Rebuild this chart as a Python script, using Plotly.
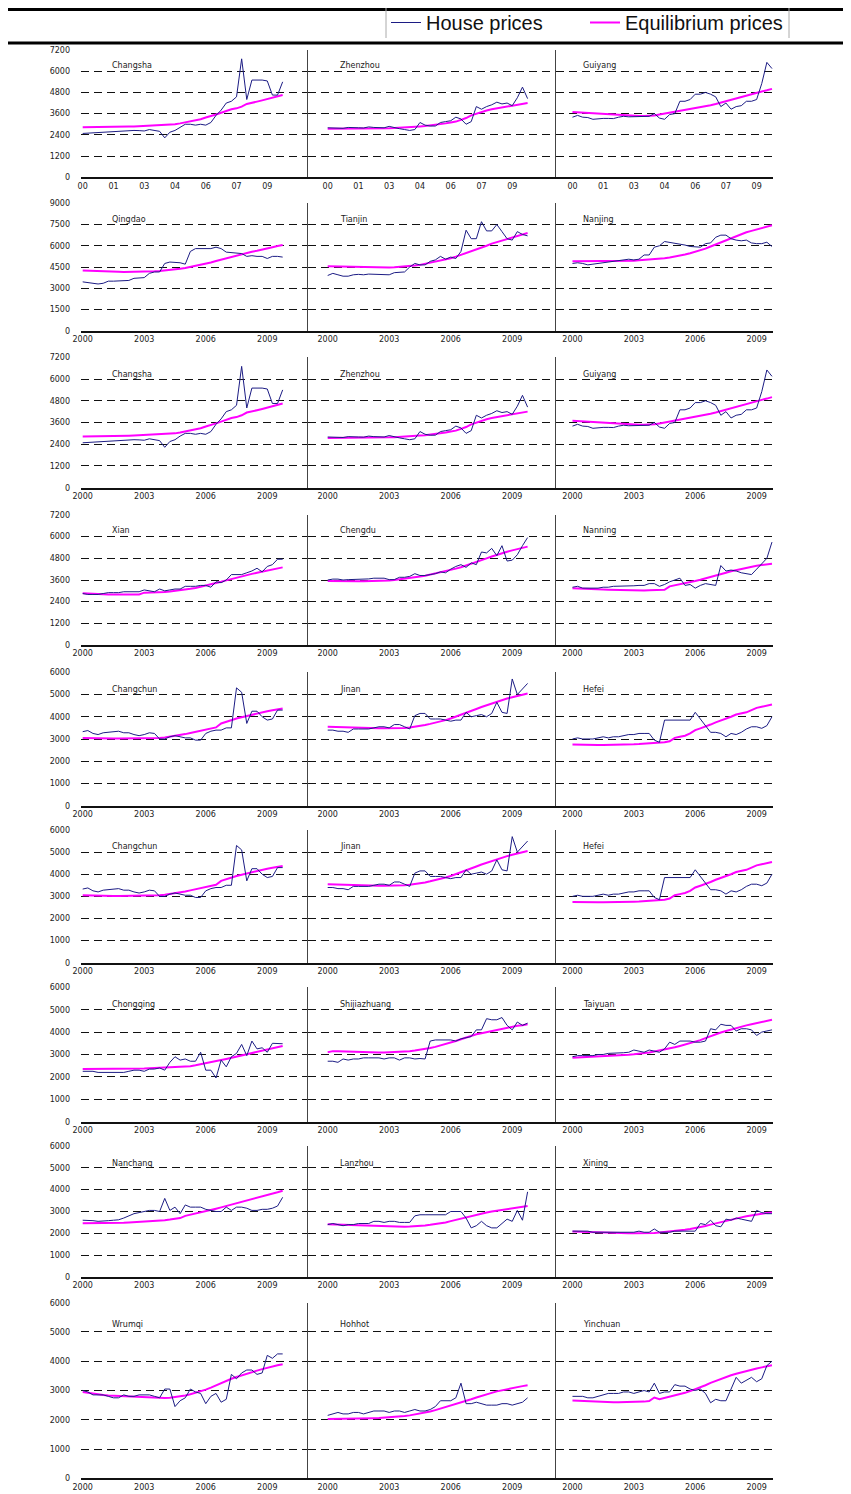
import plotly.graph_objects as go

# ---------------- data (quarterly, 2000Q1 .. 2009Q4) ----------------
quarters = [2000 + i * 0.25 for i in range(40)]

changsha_house = [2480,2500,2480,2500, 2550,2580,2600,2600, 2620,2650,2650,2640, 2620,2700,2650,2600,
                  2230,2550,2650,2850, 3000,3000,2950,3000, 2950,3100,3500,3800, 4200,4300,4550,6700,
                  4400,5500,5500,5500, 5450,4650,4650,5400]
changsha_eq = [2830,2830,2830,2830, 2835,2840,2845,2850, 2860,2870,2880,2890, 2900,2920,2930,2940,
               2950,2970,3000,3050, 3100,3150,3200,3280, 3380,3450,3550,3650, 3750,3850,3900,4000,
               4150,4200,4280,4350, 4420,4500,4580,4650]
zhenzhou_house = [2800,2790,2780,2770, 2820,2790,2800,2790, 2850,2820,2830,2800, 2880,2800,2750,2700,
                  2650,2700,3100,2950, 2900,2900,3100,3150, 3200,3400,3300,3000, 3150,4000,3850,4000,
                  4100,4250,4150,4200, 4050,4500,5100,4450]
zhenzhou_eq = [2750,2750,2745,2745, 2745,2750,2750,2750, 2755,2760,2765,2770, 2780,2790,2800,2820,
               2840,2860,2880,2900, 2930,2960,3000,3050, 3100,3150,3250,3350, 3500,3600,3700,3780,
               3850,3900,3950,4000, 4050,4100,4150,4200]
guiyang_house = [3400,3500,3400,3380, 3280,3320,3330,3330, 3320,3400,3450,3420, 3430,3400,3420,3450,
                 3600,3350,3280,3550, 3600,4300,4300,4400, 4700,4700,4800,4700, 4550,4000,4200,3850,
                 4000,4050,4300,4300, 4400,5300,6500,6150]
guiyang_eq = [3700,3680,3660,3640, 3620,3600,3580,3560, 3540,3520,3500,3490, 3480,3470,3470,3480,
              3500,3550,3600,3650, 3700,3750,3800,3850, 3900,3950,4000,4080, 4150,4230,4300,4380,
              4450,4550,4650,4700, 4780,4850,4920,5000]

qingdao_house = [3450,3400,3400,3300, 3350,3500,3500,3500, 3500,3550,3700,3750, 3750,4050,4150,4150,
                 4750,4850,4850,4800, 4700,5600,5800,5800, 5750,5800,5900,5800, 5550,5500,5500,5450,
                 5250,5300,5250,5250, 5100,5250,5250,5200]
qingdao_eq = [4250,4230,4210,4200, 4190,4180,4170,4160, 4150,4150,4150,4160, 4170,4180,4200,4220,
              4250,4290,4330,4380, 4430,4500,4570,4650, 4730,4820,4920,5020, 5120,5220,5320,5420,
              5500,5580,5650,5750, 5830,5900,5980,6050]
tianjin_house = [3900,4050,3950,3850, 3850,3950,3980,3950, 4000,3980,4000,3950, 3950,4100,4100,4150,
                 4500,4750,4650,4650, 4900,5000,5250,5050, 5200,5100,5600,7100, 6500,6500,7700,7050,
                 7050,7500,7000,6500, 6400,7000,6800,6700]
tianjin_eq = [4550,4540,4530,4520, 4510,4500,4490,4480, 4470,4460,4460,4460, 4470,4480,4500,4520,
              4550,4600,4650,4720, 4800,4880,4960,5040, 5120,5230,5350,5470, 5600,5720,5850,6000,
              6150,6250,6350,6450, 6550,6650,6750,6900]
nanjing_house = [4750,4800,4750,4650, 4700,4750,4800,4850, 4850,4900,4950,5050, 5000,5050,5350,5350,
                 5900,6000,6300,6250, 6200,6100,6050,5950, 5900,5900,6150,6200, 6600,6750,6750,6500,
                 6400,6350,6400,6200, 6150,6150,6250,5950]
nanjing_eq = [4900,4900,4900,4900, 4900,4900,4905,4910, 4915,4920,4930,4940, 4950,4970,4990,5010,
              5040,5080,5120,5170, 5230,5300,5380,5470, 5570,5680,5800,5950, 6100,6250,6400,6550,
              6700,6830,6950,7050, 7150,7250,7350,7450]

xian_house = [2850,2800,2800,2800, 2850,2900,2900,2900, 2950,2950,2950,2950, 3050,3000,2950,3100,
              3000,3050,3100,3100, 3250,3250,3250,3300, 3300,3200,3500,3450, 3600,3900,3900,3900,
              4000,4100,4250,4050, 4350,4450,4750,4750]
xian_eq = [2870,2850,2830,2820, 2810,2800,2800,2800, 2800,2800,2800,2800, 2900,2900,2910,2920,
           2940,2960,2990,3020, 3060,3110,3160,3220, 3280,3350,3420,3500, 3580,3660,3740,3810,
           3880,3940,4000,4060, 4110,4170,4230,4300]
chengdu_house = [3600,3650,3650,3600, 3620,3620,3650,3650, 3660,3700,3720,3700, 3620,3620,3750,3750,
                 3800,3950,3850,3850, 3900,3950,4050,4000, 4200,4350,4450,4300, 4550,4450,5150,5100,
                 5350,4950,5500,4650, 4700,5000,5500,5950]
chengdu_eq = [3550,3540,3530,3530, 3530,3530,3530,3530, 3530,3530,3540,3550, 3570,3600,3630,3660,
              3700,3740,3790,3840, 3900,3950,4010,4080, 4150,4230,4310,4400, 4500,4600,4700,4800,
              4900,5000,5080,5160, 5240,5320,5390,5450]
nanning_house = [3200,3250,3150,3150, 3150,3150,3200,3200, 3250,3250,3280,3280, 3280,3300,3300,3400,
                 3400,3250,3350,3500, 3600,3700,3300,3350, 3150,3300,3400,3350, 3300,4400,4100,4150,
                 4100,4000,3950,3900, 4200,4500,4800,5700]
nanning_eq = [3150,3130,3110,3100, 3090,3080,3070,3060, 3050,3040,3030,3020, 3020,3020,3020,3030,
              3040,3050,3060,3250, 3300,3360,3420,3480, 3540,3610,3680,3760, 3840,3920,4000,4080,
              4150,4220,4280,4340, 4390,4430,4470,4500]

changchun_house = [3330,3380,3250,3200, 3280,3300,3300,3350, 3280,3280,3200,3150, 3200,3280,3250,3000,
                   3000,3100,3150,3100, 3050,3050,2950,2950, 3250,3350,3400,3400, 3500,3500,5300,5100,
                   3700,4250,4250,4000, 3850,3900,4300,4300]
changchun_eq = [3050,3040,3040,3030, 3030,3030,3020,3020, 3020,3020,3020,3020, 3020,3030,3040,3050,
                3070,3100,3140,3180, 3220,3270,3320,3370, 3420,3470,3520,3700, 3780,3850,3920,3980,
                4040,4100,4150,4200, 4250,4290,4330,4370]
jinan_house = [3400,3400,3350,3350, 3300,3450,3450,3450, 3450,3500,3550,3550, 3500,3650,3650,3550,
               3450,4050,4150,4150, 3900,3900,3900,3850, 3800,3850,3850,4200, 4000,4050,4100,4000,
               4150,4650,4200,4150, 5700,5000,5250,5500]
jinan_eq = [3550,3540,3530,3520, 3510,3500,3500,3490, 3490,3480,3480,3480, 3480,3480,3490,3500,
            3520,3550,3590,3630, 3680,3730,3790,3850, 3920,4000,4080,4170, 4260,4350,4440,4520,
            4600,4680,4750,4820, 4880,4940,5000,5050]
hefei_house = [3000,3050,3000,3000, 3000,3050,3100,3050, 3100,3100,3150,3200, 3200,3250,3250,3250,
               2950,2850,3850,3850, 3820,3850,3850,3850, 4200,3900,3600,3300, 3300,3250,3100,3250,
               3200,3300,3450,3550, 3550,3480,3600,4000]
hefei_eq = [2750,2740,2730,2730, 2730,2730,2730,2730, 2740,2740,2750,2750, 2760,2770,2780,2790,
            2800,2820,2850,2900, 3050,3100,3150,3250, 3400,3480,3550,3650, 3750,3830,3900,4000,
            4100,4150,4200,4300, 4400,4450,4500,4550]

chongqing_house = [2250,2250,2250,2200, 2200,2200,2200,2200, 2200,2250,2300,2300, 2250,2350,2350,2400,
                   2300,2650,2900,2750, 2800,2700,2700,3100, 2300,2300,1950,2750, 2450,2900,3050,3450,
                   2950,3600,3250,3300, 3100,3500,3500,3480]
chongqing_eq = [2350,2350,2350,2350, 2350,2350,2350,2355, 2360,2365,2370,2375, 2380,2390,2400,2410,
                2420,2440,2460,2470, 2450,2480,2520,2560, 2600,2650,2700,2750, 2800,2850,2900,2950,
                3000,3050,3100,3150, 3200,3260,3320,3380]
shijiazhuang_house = [2700,2700,2650,2800, 2750,2800,2800,2850, 2850,2850,2850,2800, 2850,2850,2750,2850,
                      2850,2800,2820,2800, 3600,3650,3650,3650, 3650,3600,3700,3750, 3800,4100,4100,4600,
                      4550,4550,4650,4300, 4100,4450,4300,4400]
shijiazhuang_eq = [3100,3150,3140,3130, 3120,3110,3100,3100, 3090,3090,3090,3090, 3100,3100,3110,3130,
                   3150,3180,3210,3250, 3290,3340,3400,3460, 3530,3600,3680,3760, 3840,3900,3950,4000,
                   4050,4100,4150,4200, 4240,4280,4310,4350]
taiyuan_house = [2900,2950,2950,2950, 2950,3000,3000,3050, 3050,3050,3080,3100, 3200,3150,3100,3200,
                 3150,3100,3250,3550, 3450,3600,3600,3600, 3550,3550,3600,4150, 4100,4350,4300,4300,
                 4050,4150,4150,4100, 3850,4000,4050,4100]
taiyuan_eq = [2850,2860,2870,2880, 2890,2900,2910,2920, 2940,2950,2970,2990, 3010,3030,3060,3090,
              3130,3170,3220,3270, 3320,3380,3440,3500, 3570,3640,3730,3820, 3900,3980,4050,4120,
              4180,4240,4300,4350, 4400,4450,4500,4550]

nanchang_house = [2600,2600,2580,2550, 2550,2580,2600,2620, 2700,2800,2900,2950, 3000,3050,3050,3000,
                  3600,3050,3200,2900, 3300,3200,3200,3200, 3100,3050,3000,3000, 3200,3050,3200,3200,
                  3150,3050,3050,3100, 3100,3150,3250,3650]
nanchang_eq = [2460,2460,2460,2460, 2470,2470,2480,2480, 2490,2500,2510,2520, 2530,2540,2560,2580,
               2600,2630,2660,2700, 2800,2850,2900,2950, 3000,3070,3130,3190, 3250,3310,3370,3430,
               3500,3560,3620,3680, 3750,3810,3880,3950]
lanzhou_house = [2400,2450,2400,2350, 2400,2400,2450,2450, 2450,2550,2550,2500, 2550,2550,2500,2500,
                 2500,2800,2850,2850, 2850,2880,2880,2850, 3000,3000,3000,2700, 2250,2350,2550,2350,
                 2250,2250,2450,2650, 2550,3050,2600,3900]
lanzhou_eq = [2420,2410,2400,2390, 2380,2370,2360,2350, 2340,2330,2320,2310, 2300,2300,2300,2300,
              2310,2320,2340,2360, 2390,2420,2460,2500, 2560,2620,2680,2740, 2800,2850,2900,2950,
              3000,3040,3080,3120, 3160,3200,3230,3250]
xining_house = [2100,2100,2100,2100, 2050,2050,2050,2050, 2050,2050,2050,2050, 2050,2100,2050,2050,
                2200,2050,2050,2050, 2100,2100,2100,2100, 2100,2450,2400,2600, 2350,2300,2650,2600,
                2700,2650,2600,2550, 3050,2950,2900,2900]
xining_eq = [2080,2070,2060,2050, 2040,2030,2020,2020, 2020,2010,2000,2000, 2000,2000,2000,2010,
             2020,2040,2060,2080, 2100,2130,2160,2200, 2240,2290,2340,2400, 2460,2520,2580,2630,
             2680,2730,2780,2830, 2870,2900,2930,2950]

wrumqi_house = [3000,2950,2850,2850, 2850,2800,2750,2750, 2850,2800,2800,2850, 2850,2850,2800,2750,
                3050,3050,2450,2650, 2750,3050,2950,2900, 2550,2800,2900,2600, 2700,3550,3400,3600,
                3700,3700,3550,3600, 4200,4100,4250,4250]
wrumqi_eq = [2950,2920,2890,2870, 2850,2830,2820,2810, 2800,2790,2780,2770, 2760,2750,2740,2740,
             2740,2750,2770,2800, 2830,2870,2920,2970, 3030,3100,3180,3260, 3340,3400,3460,3520,
             3580,3630,3680,3730, 3780,3820,3860,3900]
hohhot_house = [2150,2200,2250,2200, 2200,2250,2250,2200, 2250,2300,2300,2300, 2250,2300,2300,2250,
                2300,2350,2300,2300, 2350,2450,2650,2650, 2650,2750,3250,2550, 2550,2600,2550,2500,
                2500,2500,2550,2550, 2500,2550,2600,2750]
hohhot_eq = [2030,2030,2030,2030, 2030,2035,2040,2045, 2050,2055,2060,2070, 2080,2090,2110,2130,
             2150,2180,2210,2240, 2280,2330,2380,2430, 2480,2530,2580,2640, 2700,2760,2820,2870,
             2920,2970,3010,3050, 3090,3120,3150,3180]
yinchuan_house = [2800,2800,2800,2750, 2750,2800,2850,2900, 2900,2900,2950,2950, 2900,2950,3000,2950,
                  3250,2900,2950,2950, 3200,3150,3150,3050, 3000,3050,2900,2580, 2700,2650,2650,3050,
                  3450,3250,3350,3450, 3300,3400,3850,4000]
yinchuan_eq = [2660,2650,2640,2630, 2620,2610,2600,2600, 2600,2600,2600,2600, 2600,2610,2620,2640,
               2760,2700,2740,2780, 2820,2870,2920,2980, 3040,3110,3180,3260, 3330,3400,3460,3520,
               3570,3620,3670,3710, 3750,3790,3820,3860]

# rows of panels: (name, house series, equilibrium series)
rows = [
    [("Changsha", changsha_house, changsha_eq), ("Zhenzhou", zhenzhou_house, zhenzhou_eq), ("Guiyang", guiyang_house, guiyang_eq)],
    [("Qingdao", qingdao_house, qingdao_eq), ("Tianjin", tianjin_house, tianjin_eq), ("Nanjing", nanjing_house, nanjing_eq)],
    [("Changsha", changsha_house, changsha_eq), ("Zhenzhou", zhenzhou_house, zhenzhou_eq), ("Guiyang", guiyang_house, guiyang_eq)],
    [("Xian", xian_house, xian_eq), ("Chengdu", chengdu_house, chengdu_eq), ("Nanning", nanning_house, nanning_eq)],
    [("Changchun", changchun_house, changchun_eq), ("Jinan", jinan_house, jinan_eq), ("Hefei", hefei_house, hefei_eq)],
    [("Changchun", changchun_house, changchun_eq), ("Jinan", jinan_house, jinan_eq), ("Hefei", hefei_house, hefei_eq)],
    [("Chongqing", chongqing_house, chongqing_eq), ("Shijiazhuang", shijiazhuang_house, shijiazhuang_eq), ("Taiyuan", taiyuan_house, taiyuan_eq)],
    [("Nanchang", nanchang_house, nanchang_eq), ("Lanzhou", lanzhou_house, lanzhou_eq), ("Xining", xining_house, xining_eq)],
    [("Wrumqi", wrumqi_house, wrumqi_eq), ("Hohhot", hohhot_house, hohhot_eq), ("Yinchuan", yinchuan_house, yinchuan_eq)],
]
row_ymax = [7200, 9000, 7200, 7200, 6000, 6000, 6000, 6000, 6000]
row_ystep = [1200, 1500, 1200, 1200, 1000, 1000, 1000, 1000, 1000]

short_ticks = [2000, 2001.5, 2003, 2004.5, 2006, 2007.5, 2009]
short_labels = ["00", "01", "03", "04", "06", "07", "09"]
long_ticks = [2000, 2003, 2006, 2009]
long_labels = ["2000", "2003", "2006", "2009"]

series_names = ["House prices", "Equilibrium prices"]

# ---------------- geometry ----------------
# the page adds an 8px body margin; the figure is sized so that page == 851x1494
OFF = 8
W, H = 851 - OFF, 1494 - OFF


def px_x(X):
    return (X - OFF) / W


def px_y(Y):
    return 1 - (Y - OFF) / H


row_px = [(50, 177.3), (203.3, 330.7), (357.3, 487.7), (515, 645), (672.3, 805.7),
          (830, 962.7), (987.3, 1121.7), (1146, 1277), (1302.7, 1478.3)]
label_y_px = [66, 219, 374, 531, 689, 846, 1004, 1163, 1324]
col_px = [(81, 308.3), (308.3, 556.3), (556.3, 773)]
col_xrange = [(1999.917, 2011.0), (1999.054, 2011.15), (1999.21, 2009.80)]
label_x_px = [110, 337.6, 580.7]

BLUE = "#1c1c84"
MAG = "#ff00ff"
TICKFONT = dict(family="DejaVu Sans, Arial", size=8, color="#222")

fig = go.Figure()
layout = {}
annotations = []

for r, row in enumerate(rows):
    top, bot = row_px[r]
    for c, (name, house, eq) in enumerate(row):
        k = r * 3 + c + 1
        xs = "x" if k == 1 else f"x{k}"
        ys = "y" if k == 1 else f"y{k}"
        first = (k == 1)
        fig.add_trace(go.Scatter(x=quarters, y=eq, mode="lines", name=series_names[1],
                                 line=dict(color=MAG, width=2), xaxis=xs, yaxis=ys,
                                 showlegend=first, legendrank=2))
        fig.add_trace(go.Scatter(x=quarters, y=house, mode="lines", name=series_names[0],
                                 line=dict(color=BLUE, width=1), xaxis=xs, yaxis=ys,
                                 showlegend=first, legendrank=1))
        if r == 0:
            tv, tt = short_ticks, short_labels
        else:
            tv, tt = long_ticks, long_labels
        xkey = "xaxis" if k == 1 else f"xaxis{k}"
        ykey = "yaxis" if k == 1 else f"yaxis{k}"
        layout[xkey] = dict(
            domain=[px_x(col_px[c][0]), px_x(col_px[c][1])], range=list(col_xrange[c]),
            anchor=ys, showline=True, linecolor="#111", linewidth=1.5, showgrid=False,
            zeroline=False, tickmode="array", tickvals=tv, ticktext=tt, ticks="",
            tickfont=TICKFONT, fixedrange=True, automargin=False,
        )
        ymax, ystep = row_ymax[r], row_ystep[r]
        layout[ykey] = dict(
            domain=[px_y(bot), px_y(top)], range=[0, ymax], anchor=xs,
            tickmode="array", tickvals=list(range(0, ymax + 1, ystep)),
            showgrid=True, gridcolor="#111", gridwidth=1.2, griddash="8px,5px",
            zeroline=False, showline=(c > 0), linecolor="#444", linewidth=1,
            showticklabels=(c == 0), ticks="", tickfont=TICKFONT,
            ticklabelstandoff=10, fixedrange=True, automargin=False,
        )
        annotations.append(dict(
            x=px_x(label_x_px[c]), y=px_y(label_y_px[r]), xref="paper", yref="paper",
            text=name, showarrow=False, xanchor="left", yanchor="middle",
            font=dict(family="DejaVu Sans, Arial", size=8, color="#222"),
        ))

shapes = [
    dict(type="line", xref="paper", yref="paper", x0=0, x1=1, y0=1 - 1.5 / H, y1=1 - 1.5 / H,
         line=dict(color="black", width=3)),
    dict(type="line", xref="paper", yref="paper", x0=0, x1=1, y0=px_y(43), y1=px_y(43),
         line=dict(color="black", width=3)),
    dict(type="line", xref="paper", yref="paper", x0=px_x(386), x1=px_x(386), y0=1, y1=px_y(38),
         line=dict(color="#aaaaaa", width=1)),
    dict(type="line", xref="paper", yref="paper", x0=px_x(789), x1=px_x(789), y0=1, y1=px_y(38),
         line=dict(color="#aaaaaa", width=1)),
]

fig.update_layout(
    template="none",
    width=W, height=H, margin=dict(l=0, r=0, t=0, b=0, autoexpand=False),
    paper_bgcolor="white", plot_bgcolor="white",
    showlegend=True,
    legend=dict(orientation="h", x=px_x(386), xanchor="left", y=1 + 5 / H, yanchor="top",
                font=dict(family="Liberation Sans, Arial", size=20, color="#111"),
                bgcolor="rgba(0,0,0,0)", borderwidth=0, entrywidth=154, entrywidthmode="pixels",
                traceorder="normal"),
    annotations=annotations, shapes=shapes,
    **layout,
)

fig.write_html("out.html")
